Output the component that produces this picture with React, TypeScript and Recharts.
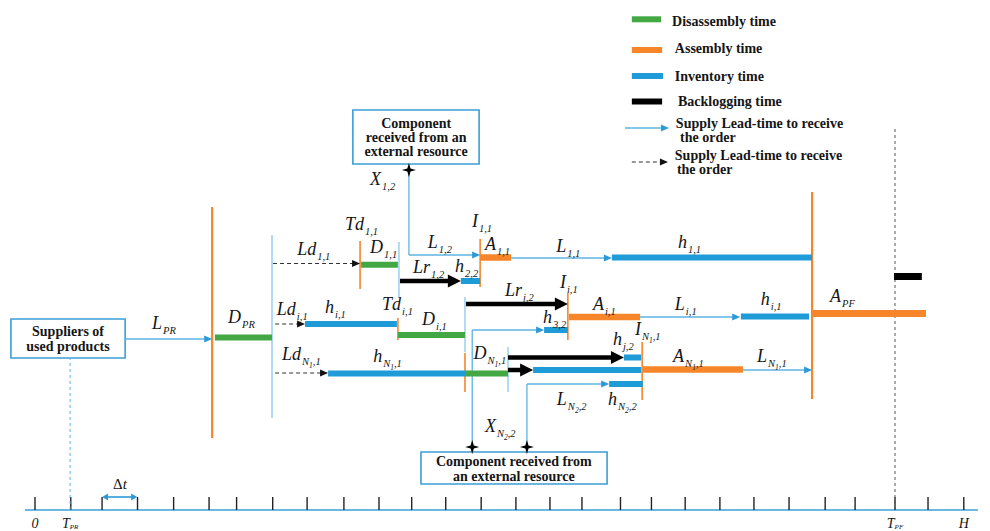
import React from 'react';
import { ComposedChart, XAxis, YAxis, Scatter, ReferenceLine, ReferenceArea } from 'recharts';

// x: time in periods (Δt), y: level above the time axis
const X_DOMAIN: [number, number] = [-35 / 34.4, 955 / 34.4];
const Y_DOMAIN: [number, number] = [-2.1, 51];

const GREEN = '#43a843';
const ORANGE = '#f7862a';
const BLUE = '#1f9bd7';
const LINK = '#5db3e4';
const SEP = '#9fd3f0';
const BOX = '#3a9fd6';
const INK = '#151515';

// ---------- data ----------
const axisTicks = [0, 1.04, 1.95, 2.98, 4.03, 5.06, 5.86, 6.91, 7.91, 8.98, 10.0, 10.95, 11.94, 12.97, 13.98, 14.97, 15.9, 17.02, 17.92, 18.9, 19.91, 20.9, 21.92, 22.97, 23.84, 25.0, 25.96, 27.0];
const axisLabels = [
  { x: 0, y: -1.3, main: '0', sub: '' },
  { x: 1.02, y: -1.3, main: 'T', sub: 'PR' },
  { x: 25.0, y: -1.3, main: 'T', sub: 'PF' },
  { x: 27.0, y: -1.3, main: 'H', sub: '' },
];
const deltaT = { x1: 1.95, x2: 2.97, y: 1.3, labelX: 2.47, labelY: 2.6 };

const disassemblyBars = [
  { x1: 5.23, x2: 6.89, y: 17.25 },
  { x1: 9.48, x2: 10.55, y: 24.53 },
  { x1: 10.55, x2: 12.5, y: 17.5 },
  { x1: 12.5, x2: 13.75, y: 13.65 },
];
const assemblyBars = [
  { x1: 12.94, x2: 13.84, y: 25.25 },
  { x1: 15.52, x2: 17.59, y: 19.3 },
  { x1: 17.67, x2: 20.58, y: 14.05 },
  { x1: 22.59, x2: 25.9, y: 19.65 },
];
const inventoryBars = [
  { x1: 12.38, x2: 12.94, y: 22.9 },
  { x1: 16.77, x2: 22.59, y: 25.25 },
  { x1: 7.85, x2: 10.52, y: 18.6 },
  { x1: 14.8, x2: 15.49, y: 18.0 },
  { x1: 20.52, x2: 22.5, y: 19.35 },
  { x1: 8.52, x2: 12.5, y: 13.65 },
  { x1: 17.12, x2: 17.62, y: 15.25 },
  { x1: 14.48, x2: 17.62, y: 14.0 },
  { x1: 16.69, x2: 17.67, y: 12.6 },
];
const backlogBars = [{ x1: 24.97, x2: 25.78, y: 23.35 }];

const supplyArrows = [
  { x1: 2.62, x2: 5.15, y: 17.1 },
  { x1: 10.87, x2: 12.94, y: 25.5 },
  { x1: 13.84, x2: 16.77, y: 25.2 },
  { x1: 12.71, x2: 14.8, y: 18.0 },
  { x1: 17.59, x2: 20.5, y: 19.3 },
  { x1: 14.3, x2: 16.69, y: 12.6 },
  { x1: 20.58, x2: 22.59, y: 14.0 },
];
const supplyRisers = [
  { x: 10.87, y1: 25.5, y2: 34.0 },
  { x: 12.71, y1: 6.3, y2: 18.0 },
  { x: 14.3, y1: 6.3, y2: 12.6 },
];
const disassemblyLeadArrows = [
  { x1: 6.92, x2: 9.45, y: 24.65 },
  { x1: 6.98, x2: 7.85, y: 18.6 },
  { x1: 6.98, x2: 8.52, y: 13.7 },
];
const backorderArrows = [
  { x1: 10.61, x2: 12.38, y: 22.9 },
  { x1: 12.53, x2: 15.49, y: 20.6 },
  { x1: 13.75, x2: 17.12, y: 15.25 },
  { x1: 13.75, x2: 14.48, y: 14.0 },
];
const mainGates = [
  { x: 5.15, y1: 7.2, y2: 30.3 },
  { x: 22.59, y1: 11.1, y2: 31.8 },
];
const stageMarks = [
  { x: 9.45, y1: 22.1, y2: 26.9 },
  { x: 12.94, y1: 22.3, y2: 27.1 },
  { x: 10.55, y1: 17.0, y2: 19.2 },
  { x: 15.49, y1: 17.0, y2: 21.7 },
  { x: 12.5, y1: 11.8, y2: 15.7 },
  { x: 17.65, y1: 11.0, y2: 16.8 },
];
const separatorMarks = [
  { x: 6.89, y1: 9.2, y2: 27.5 },
  { x: 10.58, y1: 21.3, y2: 26.8 },
  { x: 12.5, y1: 15.8, y2: 21.3 },
  { x: 13.75, y1: 11.8, y2: 16.3 },
];
const supplierDrop = { x: 1.02, y1: 0, y2: 15.2 };
const horizonLine = { x: 25.0, y1: 0, y2: 38.2 };
const timeAxis = { x1: -0.29, x2: 27.41, y: 0 };

const boxes = [
  { x1: -0.7, x2: 2.62, y1: 15.2, y2: 19.1 },
  { x1: 9.24, x2: 12.91, y1: 34.6, y2: 40.0 },
  { x1: 11.22, x2: 16.63, y1: 2.6, y2: 5.8 },
];
const boxTexts = [
  { x: 0.96, y: 17.9, text: 'Suppliers of' },
  { x: 0.96, y: 16.4, text: 'used products' },
  { x: 11.08, y: 38.7, text: 'Component' },
  { x: 11.08, y: 37.3, text: 'received from an' },
  { x: 11.08, y: 35.9, text: 'external resource' },
  { x: 13.92, y: 4.9, text: 'Component received from' },
  { x: 13.92, y: 3.4, text: 'an external resource' },
];
const stars = [
  { x: 10.87, y: 34.0 },
  { x: 12.71, y: 6.3 },
  { x: 14.3, y: 6.3 },
];

const mathLabels = [
  { x: 3.4, y: 18.1, main: 'L', sub: 'PR' },
  { x: 5.61, y: 18.7, main: 'D', sub: 'PR' },
  { x: 7.62, y: 25.5, main: 'Ld', sub: '1,1' },
  { x: 9.01, y: 28.0, main: 'Td', sub: '1,1' },
  { x: 9.74, y: 25.7, main: 'D', sub: '1,1' },
  { x: 9.74, y: 32.5, main: 'X', sub: '1,2' },
  { x: 11.42, y: 26.2, main: 'L', sub: '1,2' },
  { x: 12.7, y: 28.3, main: 'I', sub: '1,1' },
  { x: 13.08, y: 26.0, main: 'A', sub: '1,1' },
  { x: 10.99, y: 23.7, main: 'Lr', sub: '1,2' },
  { x: 12.21, y: 23.8, main: 'h', sub: '2,2' },
  { x: 15.15, y: 25.8, main: 'L', sub: '1,1' },
  { x: 18.69, y: 26.2, main: 'h', sub: '1,1' },
  { x: 7.03, y: 19.5, main: 'Ld', sub: 'i,1' },
  { x: 8.43, y: 19.7, main: 'h', sub: 'i,1' },
  { x: 10.09, y: 20.0, main: 'Td', sub: 'i,1' },
  { x: 11.25, y: 18.5, main: 'D', sub: 'i,1' },
  { x: 13.66, y: 21.4, main: 'Lr', sub: 'j,2' },
  { x: 15.26, y: 22.2, main: 'I', sub: 'i,1' },
  { x: 14.77, y: 18.7, main: 'h', sub: '3,2' },
  { x: 16.22, y: 20.0, main: 'A', sub: 'i,1' },
  { x: 18.6, y: 20.0, main: 'L', sub: 'i,1' },
  { x: 21.1, y: 20.5, main: 'h', sub: 'i,1' },
  { x: 23.11, y: 20.8, main: 'A', sub: 'PF' },
  { x: 7.18, y: 15.0, main: 'Ld', sub: 'N', nsub: '1', rest: ',1' },
  { x: 9.83, y: 14.8, main: 'h', sub: 'N', nsub: '1', rest: ',1' },
  { x: 12.75, y: 15.1, main: 'D', sub: 'N', nsub: '1', rest: ',1' },
  { x: 16.8, y: 16.5, main: 'h', sub: 'j,2' },
  { x: 17.44, y: 17.5, main: 'I', sub: 'N', nsub: '1', rest: ',1' },
  { x: 18.55, y: 14.8, main: 'A', sub: 'N', nsub: '1', rest: ',1' },
  { x: 20.99, y: 14.8, main: 'L', sub: 'N', nsub: '1', rest: ',1' },
  { x: 15.17, y: 10.5, main: 'L', sub: 'N', nsub: '2', rest: ',2' },
  { x: 16.66, y: 10.5, main: 'h', sub: 'N', nsub: '2', rest: ',2' },
  { x: 13.08, y: 7.8, main: 'X', sub: 'N', nsub: '2', rest: ',2' },
];

const legendSwatches = [
  { x1: 17.35, x2: 18.2, y: 49.07, kind: 'disassembly' },
  { x1: 17.35, x2: 18.23, y: 46.0, kind: 'assembly' },
  { x1: 17.35, x2: 18.26, y: 43.4, kind: 'inventory' },
  { x1: 17.35, x2: 18.23, y: 40.85, kind: 'backlog' },
];
const legendArrows = [
  { x1: 17.15, x2: 18.43, y: 38.2, kind: 'supply' },
  { x1: 17.35, x2: 18.4, y: 34.8, kind: 'dashed' },
];
const legendTexts = [
  { x: 18.52, y: 48.9, text: 'Disassembly time' },
  { x: 18.6, y: 46.2, text: 'Assembly time' },
  { x: 18.6, y: 43.4, text: 'Inventory time' },
  { x: 18.69, y: 40.9, text: 'Backlogging time' },
  { x: 18.63, y: 38.7, text: 'Supply Lead-time to receive' },
  { x: 18.75, y: 37.3, text: 'the order' },
  { x: 18.6, y: 35.5, text: 'Supply Lead-time to receive' },
  { x: 18.66, y: 34.1, text: 'the order' },
];

// ---------- shapes ----------
const SERIF = "'Liberation Serif', 'Times New Roman', serif";

type ArrowOpts = { color: string; head: string; width: number; len: number; half: number; dash?: string; both?: boolean };

const arrowShape = (o: ArrowOpts) => (p: any) => {
  const { x1, y1, x2, y2 } = p;
  const dx = x2 - x1;
  const dy = y2 - y1;
  const l = Math.hypot(dx, dy) || 1;
  const ux = dx / l;
  const uy = dy / l;
  const nx = -uy;
  const ny = ux;
  const head = (tx: number, ty: number, sx: number, sy: number) => {
    const bx = tx - sx * o.len;
    const by = ty - sy * o.len;
    return `${tx},${ty} ${bx + nx * o.half},${by + ny * o.half} ${bx - nx * o.half},${by - ny * o.half}`;
  };
  const ex = x2 - ux * (o.len - 1);
  const ey = y2 - uy * (o.len - 1);
  const sx = o.both ? x1 + ux * (o.len - 1) : x1;
  const sy = o.both ? y1 + uy * (o.len - 1) : y1;
  return (
    <g>
      <line x1={sx} y1={sy} x2={ex} y2={ey} stroke={o.color} strokeWidth={o.width} strokeDasharray={o.dash} />
      <polygon points={head(x2, y2, ux, uy)} fill={o.head} />
      {o.both && <polygon points={head(x1, y1, -ux, -uy)} fill={o.head} />}
    </g>
  );
};

const supplyShape = arrowShape({ color: LINK, head: '#2c9ad6', width: 1.3, len: 8, half: 3.5 });
const dashedShape = arrowShape({ color: '#333', head: '#111', width: 1.2, len: 8, half: 3.5, dash: '4 3' });
const thickShape = arrowShape({ color: '#000', head: '#000', width: 4.5, len: 13, half: 6.5 });
const deltaShape = arrowShape({ color: '#2c9ad6', head: '#2c9ad6', width: 1.6, len: 6, half: 3.5, both: true });

const MathLabel = (props: any) => {
  const { cx, cy, payload } = props;
  return (
    <text x={cx} y={cy} fontFamily={SERIF} fontStyle="italic" fontSize={18} fill={INK}>
      {payload.main}
      <tspan fontSize={10.5} dy={5} dx={1}>{payload.sub}</tspan>
      {payload.nsub ? <tspan fontSize={7.5} dy={2.5}>{payload.nsub}</tspan> : null}
      {payload.rest ? <tspan fontSize={10.5} dy={-2.5}>{payload.rest}</tspan> : null}
    </text>
  );
};

const AxisLabel = (props: any) => {
  const { cx, cy, payload } = props;
  return (
    <text x={cx} y={cy} textAnchor="middle" dominantBaseline="central" fontFamily={SERIF} fontStyle="italic" fontSize={14} fill={INK}>
      {payload.main}
      {payload.sub ? <tspan fontSize={7} dy={4}>{payload.sub}</tspan> : null}
    </text>
  );
};

const CenterText = (props: any) => {
  const { cx, cy, payload } = props;
  return (
    <text x={cx} y={cy} textAnchor="middle" dominantBaseline="central" fontFamily={SERIF} fontWeight="bold" fontSize={14} fill={INK}>
      {payload.text}
    </text>
  );
};

const LeftText = (props: any) => {
  const { cx, cy, payload } = props;
  return (
    <text x={cx} y={cy} textAnchor="start" dominantBaseline="central" fontFamily={SERIF} fontWeight="bold" fontSize={14} fill={INK}>
      {payload.text}
    </text>
  );
};

const DeltaLabel = (props: any) => {
  const { cx, cy } = props;
  return (
    <text x={cx} y={cy} textAnchor="middle" dominantBaseline="central" fontFamily={SERIF} fontSize={15} fill={INK}>
      Δ<tspan fontStyle="italic">t</tspan>
    </text>
  );
};

const Star = (props: any) => {
  const { cx, cy } = props;
  const r = 7;
  const w = 1.6;
  const d = `M${cx},${cy - r} L${cx + w},${cy - w} L${cx + r},${cy} L${cx + w},${cy + w} L${cx},${cy + r} L${cx - w},${cy + w} L${cx - r},${cy} L${cx - w},${cy - w} Z`;
  return <path d={d} fill="#000" />;
};

const seg = (s: { x1: number; x2: number; y: number }) => [
  { x: s.x1, y: s.y },
  { x: s.x2, y: s.y },
];
const vseg = (s: { x: number; y1: number; y2: number }) => [
  { x: s.x, y: s.y1 },
  { x: s.x, y: s.y2 },
];

const swatchColor: Record<string, string> = { disassembly: GREEN, assembly: ORANGE, inventory: BLUE, backlog: '#000' };

export default function App() {
  return (
    <div style={{ position: 'absolute', left: 0, top: 0, width: 990, height: 531, background: '#fff' }}>
      <ComposedChart width={990} height={531} margin={{ top: 0, right: 0, bottom: 0, left: 0 }}>
        <XAxis type="number" dataKey="x" domain={X_DOMAIN} hide allowDataOverflow />
        <YAxis type="number" dataKey="y" domain={Y_DOMAIN} hide allowDataOverflow />

        {boxes.map((b, i) => (
          <ReferenceArea key={`box${i}`} x1={b.x1} x2={b.x2} y1={b.y1} y2={b.y2} stroke={BOX} strokeWidth={1.6} fill="#fff" fillOpacity={1} ifOverflow="visible" />
        ))}

        {/* time axis */}
        <ReferenceLine segment={seg(timeAxis)} stroke="#3aa0d8" strokeWidth={1.5} ifOverflow="visible" />
        {axisTicks.map((t, i) => (
          <ReferenceLine key={`tick${i}`} segment={[{ x: t, y: 0 }, { x: t, y: 1.3 }]} stroke="#222" strokeWidth={1.4} ifOverflow="visible" />
        ))}
        <ReferenceLine segment={seg(deltaT)} shape={deltaShape} ifOverflow="visible" />
        <ReferenceLine segment={vseg(supplierDrop)} stroke={LINK} strokeWidth={1} strokeDasharray="3 3" ifOverflow="visible" />
        <ReferenceLine segment={vseg(horizonLine)} stroke="#555" strokeWidth={1} strokeDasharray="3 3" ifOverflow="visible" />

        {/* vertical stage marks */}
        {separatorMarks.map((s, i) => (
          <ReferenceLine key={`sep${i}`} segment={vseg(s)} stroke={SEP} strokeWidth={1.6} ifOverflow="visible" />
        ))}
        {mainGates.map((s, i) => (
          <ReferenceLine key={`gate${i}`} segment={vseg(s)} stroke={ORANGE} strokeWidth={2.2} ifOverflow="visible" />
        ))}
        {stageMarks.map((s, i) => (
          <ReferenceLine key={`stage${i}`} segment={vseg(s)} stroke={ORANGE} strokeWidth={1.6} ifOverflow="visible" />
        ))}
        {supplyRisers.map((s, i) => (
          <ReferenceLine key={`riser${i}`} segment={vseg(s)} stroke={LINK} strokeWidth={1.3} ifOverflow="visible" />
        ))}

        {/* time bars */}
        {disassemblyBars.map((s, i) => (
          <ReferenceLine key={`dis${i}`} segment={seg(s)} stroke={GREEN} strokeWidth={6} ifOverflow="visible" />
        ))}
        {assemblyBars.map((s, i) => (
          <ReferenceLine key={`asm${i}`} segment={seg(s)} stroke={ORANGE} strokeWidth={i === 3 ? 7 : 6.5} ifOverflow="visible" />
        ))}
        {inventoryBars.map((s, i) => (
          <ReferenceLine key={`inv${i}`} segment={seg(s)} stroke={BLUE} strokeWidth={6} ifOverflow="visible" />
        ))}
        {backlogBars.map((s, i) => (
          <ReferenceLine key={`bl${i}`} segment={seg(s)} stroke="#000" strokeWidth={7} ifOverflow="visible" />
        ))}

        {/* lead-time arrows */}
        {supplyArrows.map((s, i) => (
          <ReferenceLine key={`sup${i}`} segment={seg(s)} shape={supplyShape} ifOverflow="visible" />
        ))}
        {disassemblyLeadArrows.map((s, i) => (
          <ReferenceLine key={`dl${i}`} segment={seg(s)} shape={dashedShape} ifOverflow="visible" />
        ))}
        {backorderArrows.map((s, i) => (
          <ReferenceLine key={`bo${i}`} segment={seg(s)} shape={thickShape} ifOverflow="visible" />
        ))}

        {/* legend */}
        {legendSwatches.map((s, i) => (
          <ReferenceLine key={`sw${i}`} segment={seg(s)} stroke={swatchColor[s.kind]} strokeWidth={6} ifOverflow="visible" />
        ))}
        {legendArrows.map((s, i) => (
          <ReferenceLine key={`la${i}`} segment={seg(s)} shape={s.kind === 'supply' ? supplyShape : dashedShape} ifOverflow="visible" />
        ))}

        <Scatter data={stars} shape={Star} isAnimationActive={false} />
        <Scatter data={mathLabels} shape={MathLabel} isAnimationActive={false} />
        <Scatter data={axisLabels} shape={AxisLabel} isAnimationActive={false} />
        <Scatter data={boxTexts} shape={CenterText} isAnimationActive={false} />
        <Scatter data={legendTexts} shape={LeftText} isAnimationActive={false} />
        <Scatter data={[{ x: deltaT.labelX, y: deltaT.labelY }]} shape={DeltaLabel} isAnimationActive={false} />
      </ComposedChart>
    </div>
  );
}
